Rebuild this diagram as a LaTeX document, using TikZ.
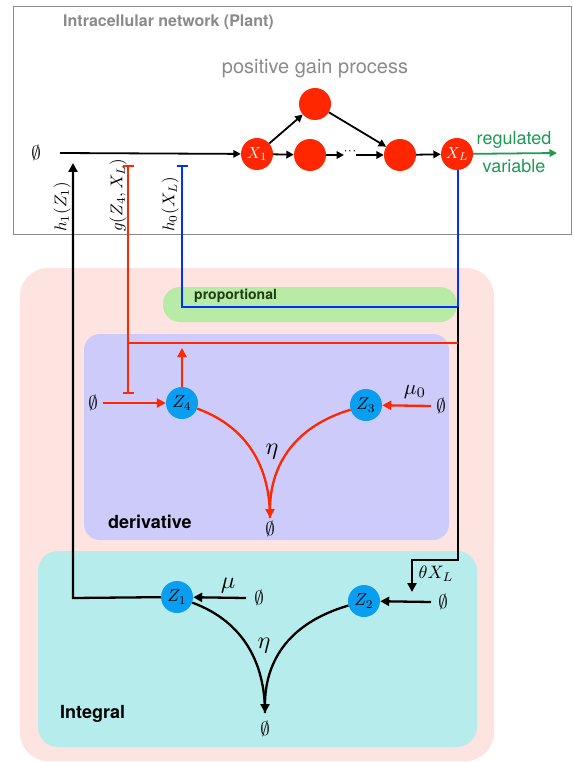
\documentclass[tikz,border=0pt]{standalone}
\usepackage{graphicx}
\usepackage{fontspec}
\setsansfont{TeX Gyre Heros}
\usetikzlibrary{arrows.meta}
\definecolor{redc}{HTML}{FF2600}
\definecolor{bluec}{HTML}{0A9EF0}
\definecolor{bluecol}{HTML}{0030FF}
\definecolor{pinkbg}{HTML}{FDE4E0}
\definecolor{purplebg}{HTML}{CCCBFA}
\definecolor{cyanbg}{HTML}{B6ECEC}
\definecolor{greenbg}{HTML}{B8EBA6}
\definecolor{greentxt}{HTML}{1E9A55}
\definecolor{graytxt}{HTML}{8A8A8A}
\definecolor{darkgreen}{HTML}{1C3D14}
\newcommand{\mysc}[2]{\scalebox{#1}{$#2$}}
\tikzset{
  plantnode/.style={circle, fill=redc, minimum size=32pt, inner sep=0pt, text=white},
  znode/.style={circle, fill=bluec, minimum size=32pt, inner sep=0pt},
  sym/.style={inner sep=0pt},
  arr/.style={-{Triangle[length=9pt,width=9pt]}},
  smallarr/.style={-{Triangle[length=7.5pt,width=7.5pt]}},
  plantl/.style={line width=1.8pt, black},
  blk/.style={line width=2.3pt, black},
  redl/.style={line width=2.3pt, redc},
  bluestroke/.style={line width=2.3pt, bluecol},
  vlabel/.style={rotate=90, anchor=west, inner sep=0pt},
  boxtitle/.style={font=\sffamily\bfseries\fontsize{18}{20}\selectfont, inner sep=0pt},
}
\begin{document}
\begin{tikzpicture}[x=1pt,y=-1pt]
\useasboundingbox (0,0) rectangle (573,762);
% backgrounds
\fill[pinkbg, rounded corners=28pt] (20,268) rectangle (494,761);
\fill[greenbg, rounded corners=17pt] (163,287) rectangle (457,322);
\fill[purplebg, rounded corners=16pt] (84,334) rectangle (449,540);
\fill[cyanbg, rounded corners=20pt] (38,551) rectangle (477,747);
\draw[graytxt, line width=1pt] (13,7) rectangle (571,234);

% titles
\node[anchor=west, font=\sffamily\bfseries\fontsize{16}{18}\selectfont, text=graytxt, inner sep=0pt] (ttl) at (63,22) {Intracellular network (Plant)};
\node[font=\sffamily\fontsize{20}{22}\selectfont, text=graytxt, inner sep=0pt] (pgp) at (315,69) {positive gain process};
\node[anchor=west, font=\sffamily\bfseries\fontsize{14}{16}\selectfont, text=darkgreen, inner sep=0pt] (prop) at (194,296) {proportional};
\node[anchor=west, boxtitle] (deriv) at (108,522) {derivative};
\node[anchor=west, boxtitle] (integ) at (60,714) {Integral};

% plant nodes
\node[sym] (e0) at (36,153) {\mysc{1.9}{\emptyset}};
\node[plantnode] (x1) at (257,154) {\mysc{1.6}{X_1}};
\node[plantnode] (xu) at (315,104) {};
\node[plantnode] (xm) at (310,155) {};
\node[plantnode] (xr) at (400,155) {};
\node[plantnode] (xl) at (457,154) {\mysc{1.6}{X_L}};
\coordinate (lstart) at (60,153);
\draw[plantl, smallarr] (lstart) -- (x1);
\draw[plantl, smallarr] (x1) -- (xu);
\draw[plantl, smallarr] (x1) -- (xm);
\draw[plantl, smallarr] (xu) -- (xr);
\coordinate (dA) at (344,155);
\coordinate (dB) at (356,155);
\draw[plantl, smallarr] (xm) -- (dA);
\node[inner sep=0pt] (dots) at (350,152) {\mysc{1.3}{\cdot\!\cdot\!\cdot}};
\draw[plantl, smallarr] (dB) -- (xr);
\draw[plantl, smallarr] (xr) -- (xl);
\coordinate (gend) at (557,153);
\draw[line width=1.8pt, greentxt, smallarr] (xl) -- (gend);
\node[font=\sffamily\fontsize{18}{20}\selectfont, text=greentxt, inner sep=0pt] (reg) at (514,140) {regulated};
\node[font=\sffamily\fontsize{18}{20}\selectfont, text=greentxt, inner sep=0pt] (var) at (514,166) {variable};

% vertical labels
\node[vlabel] (lh1) at (62,232) {\mysc{1.7}{h_1(Z_1)}};
\node[vlabel] (lg) at (118,232) {\mysc{1.7}{g(Z_4,X_L)}};
\node[vlabel] (lh0) at (170,232) {\mysc{1.7}{h_0(X_L)}};

% derivative nodes
\node[znode] (z4) at (182,403) {\mysc{1.7}{Z_4}};
\node[znode] (z3) at (366,405) {\mysc{1.7}{Z_3}};
\node[sym] (e4) at (93,403) {\mysc{1.9}{\emptyset}};
\node[sym] (e3) at (441,406) {\mysc{1.9}{\emptyset}};
\node[sym] (ed) at (270,529) {\mysc{1.9}{\emptyset}};
\node[sym] (eta1) at (272,452) {\mysc{2.4}{\eta}};
\node[sym] (mu0) at (415,392) {\mysc{2.1}{\mu_{\mathrm{0}}}};

% integral nodes
\node[znode] (z1) at (177,597) {\mysc{1.7}{Z_1}};
\node[znode] (z2) at (364,601) {\mysc{1.7}{Z_2}};
\node[sym] (e1) at (259,598) {\mysc{1.9}{\emptyset}};
\node[sym] (e2) at (443,602) {\mysc{1.9}{\emptyset}};
\node[sym] (ei) at (265,729) {\mysc{1.9}{\emptyset}};
\node[sym] (eta2) at (264,646) {\mysc{2.4}{\eta}};
\node[sym] (mu) at (228,586) {\mysc{2.4}{\mu}};
\node[sym] (thx) at (436,574) {\mysc{1.8}{\theta X_L}};

% coordinates for connectors
\coordinate (hTop) at (73,163);
\coordinate (hCorner) at (73,598);
\coordinate (gTop) at (128,165);
\coordinate (gMid) at (128,343);
\coordinate (gBot) at (128,394);
\coordinate (rRight) at (458,343);
\coordinate (pTop) at (182,165);
\coordinate (pCorner) at (182,307);
\coordinate (pRight) at (458,307);
\coordinate (xlBot) at (458,170);
\coordinate (bDown) at (458,560);
\coordinate (bLeft) at (412,560);
\coordinate (bTip) at (412,592);
\coordinate (z4up) at (182,348);
\coordinate (e4r) at (103,403);
\coordinate (e3l) at (431,406);
\coordinate (e1l) at (246,598);
\coordinate (e2l) at (431,602);
\coordinate (dTip) at (270,518);
\coordinate (iTip) at (265,713);

% proportional (blue)
\draw[bluestroke, {Bar[width=11pt]}-] (pTop) -- (pCorner) -- (pRight) -- (xlBot);
% black feed to integral
\draw[blk, arr] (pRight) -- (bDown) -- (bLeft) -- (bTip);
% red derivative inhibition
\draw[redl, {Bar[width=11pt]}-{Bar[width=11pt]}] (gTop) -- (gBot);
\draw[redl] (gMid) -- (rRight);
\draw[redl, arr] (z4) -- (z4up);
\draw[redl, arr] (e4r) -- (z4);
\draw[redl, arr] (e3l) -- (z3);
\draw[redl] (z4) .. controls (250,428) and (270,470) .. (dTip);
\draw[redl, arr] (z3) .. controls (290,428) and (270,470) .. (dTip);

% integral
\draw[blk, arr] (z1) -- (hCorner) -- (hTop);
\draw[blk, arr] (e1l) -- (z1);
\draw[blk, arr] (e2l) -- (z2);
\draw[blk] (z1) .. controls (245,622) and (265,665) .. (iTip);
\draw[blk, arr] (z2) .. controls (285,624) and (265,665) .. (iTip);
\end{tikzpicture}
\end{document}
